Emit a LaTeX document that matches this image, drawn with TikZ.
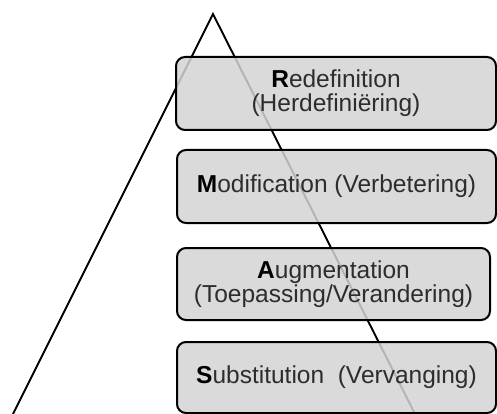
\documentclass[tikz,border=0pt]{standalone}
\usepackage{fontspec}
\setmainfont{Liberation Sans}
\definecolor{boxfill}{RGB}{211,211,211}
\definecolor{txt}{RGB}{45,45,45}
\begin{document}
\begin{tikzpicture}[x=1pt,y=-1pt,
  samrbox/.style={draw=black, line width=2pt, fill=boxfill, fill opacity=0.85, text opacity=1,
    rounded corners=9pt, align=center, text=txt, inner sep=0pt,
    font=\fontsize{24.5}{24}\selectfont},
  side/.style={draw=black, line width=1.9pt}]
\useasboundingbox (0,0) rectangle (497,414);
\coordinate (apex) at (213,14);
\coordinate (bl) at (13,414);
\coordinate (br) at (415,414);
\draw[side] (bl) -- (apex) -- (br);
\node[samrbox, minimum width=320pt, minimum height=73pt] (r) at (336,93.5)
  {\textcolor{black}{\textbf{R}}edefinition\\(Herdefiniëring)};
\node[samrbox, minimum width=319pt, minimum height=73pt] (m) at (336.5,186.5)
  {\textcolor{black}{\textbf{M}}odification (Verbetering)};
\node[samrbox, minimum width=313pt, minimum height=72pt] (a) at (333.5,284)
  {\textcolor{black}{\textbf{A}}ugmentation\\(Toepassing/Verandering)};
\node[samrbox, minimum width=319pt, minimum height=71pt] (s) at (336.5,377.5)
  {\textcolor{black}{\textbf{S}}ubstitution\ \ (Vervanging)};
\end{tikzpicture}
\end{document}
